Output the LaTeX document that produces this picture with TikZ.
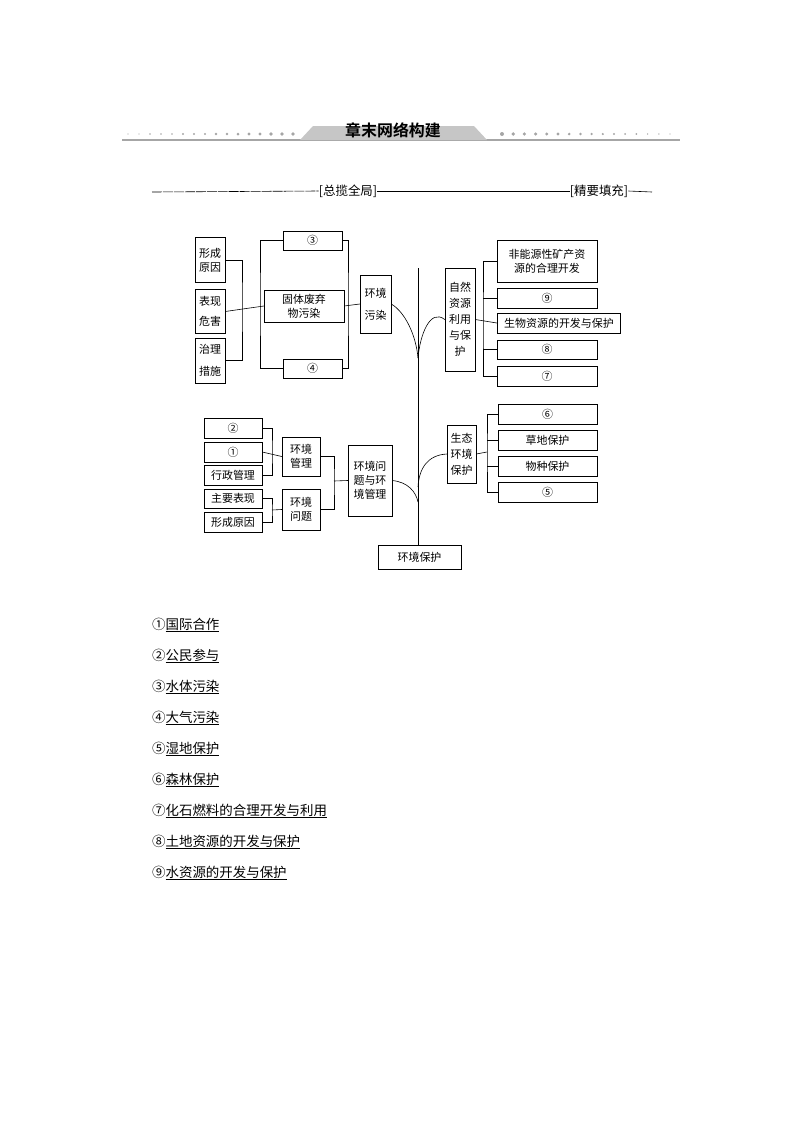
\documentclass[tikz,border=0pt]{standalone}
\usepackage{fontspec}
\newfontfamily\cjk{Noto Sans CJK SC}[BoldFont={* Bold}]
\begin{document}
\begin{tikzpicture}[x=1bp,y=-1bp,
 bx/.style={draw, line width=0.6pt, inner sep=0pt, align=center, font=\cjk\fontsize{11}{14}\selectfont},
 ln/.style={line width=0.6pt},
 ans/.style={anchor=west, inner sep=0pt, font=\cjk\fontsize{13.5}{16}\selectfont}]
\useasboundingbox (0,0) rectangle (794,1123);
% header
\draw[gray!70, line width=1.5pt] (122,140) -- (680,140);
\fill[gray!45] (300,140) -- (313,126) -- (474,126) -- (487,140) -- cycle;
\node[inner sep=0pt, font=\cjk\bfseries\fontsize{16}{18}\selectfont] (hd) at (393,130) {章末网络构建};
\foreach \i in {0,...,15} {\fill[gray!70] (128+\i*11,134) circle ({0.6+\i*0.09});}
\foreach \i in {0,...,15} {\fill[gray!70] (502+\i*11.2,134) circle ({2-\i*0.09});}
% subheader
\node[inner sep=0pt, font=\cjk\fontsize{12.5}{14}\selectfont] (s1) at (348,191) {[总揽全局]};
\node[inner sep=0pt, font=\cjk\fontsize{12.5}{14}\selectfont] (s2) at (599,191) {[精要填充]};
\coordinate (sl) at (152,192); \coordinate (sr) at (652,192);
\draw[ln, dash pattern=on 10pt off 1pt] (sl) -- (s1.west);
\draw[ln] (s1.east) -- (s2.west); \draw[ln] (s2.east) -- (sr);
% upper left
\node[bx, minimum width=30, minimum height=45] (xc) at (210,260) {形成\\原因};
\node[bx, minimum width=30, minimum height=44, font=\cjk\fontsize{11}{20}\selectfont] (bx) at (210,311.5) {表现\\危害};
\node[bx, minimum width=30, minimum height=45, font=\cjk\fontsize{11}{22}\selectfont] (zl) at (210,360.5) {治理\\措施};
\draw[ln] (xc.east) -| (242,304) |- (zl.east);
\node[bx, minimum width=59, minimum height=19] (n3) at (312.5,240.5) {③};
\node[bx, minimum width=59, minimum height=19] (n4) at (312.5,368.5) {④};
\node[bx, minimum width=80, minimum height=32] (gt) at (304,306) {固体废弃\\物污染};
\draw[ln] (bx.east) -- (gt.west);
\draw[ln] (n3.west) -| (260,304) |- (n4.west);
\draw[ln] (n3.east) -| (348,304) |- (n4.east);
\node[bx, minimum width=31, minimum height=58, font=\cjk\fontsize{11}{22}\selectfont] (hw) at (375.5,304) {环境\\污染};
\draw[ln] (gt.east) -- (hw.west);
% trunk
\node[bx, minimum width=83, minimum height=24] (hb) at (419.5,557) {环境保护};
\coordinate (top) at (418,268);
\draw[ln] (top) -- (top |- hb.north);
\coordinate (j1) at (418,358); \coordinate (j2) at (418,502); \coordinate (j3) at (418,487);
% upper right
\node[bx, minimum width=30, minimum height=103, font=\cjk\fontsize{11}{16}\selectfont] (zr) at (460,319.5) {自然\\资源\\利用\\与保\\护};
\draw[ln] (hw.east) .. controls (405,312) and (416,335) .. (j1);
\draw[ln] (zr.west) .. controls (430,308) and (420,335) .. (j1);
\node[bx, minimum width=100, minimum height=42] (r1) at (547,261) {非能源性矿产资\\源的合理开发};
\node[bx, minimum width=100, minimum height=20] (r2) at (547,298) {⑨};
\node[bx, minimum width=124, minimum height=20] (r3) at (559,323) {生物资源的开发与保护};
\node[bx, minimum width=100, minimum height=19] (r4) at (547,349.5) {⑧};
\node[bx, minimum width=100, minimum height=20] (r5) at (547,376) {⑦};
\draw[ln] (r1.west) -| (483,322) |- (r5.west);
\draw[ln] (r2.west) -- (483,298); \draw[ln] (r4.west) -- (483,349.5);
\draw[ln] (zr.east) -- (r3.west);
% lower right
\node[bx, minimum width=29, minimum height=58, font=\cjk\fontsize{11}{16}\selectfont] (st) at (461.5,454) {生态\\环境\\保护};
\draw[ln] (st.west) .. controls (428,455) and (419,468) .. (j3);
\node[bx, minimum width=99, minimum height=20] (q6) at (547.5,414) {⑥};
\node[bx, minimum width=99, minimum height=20] (q7) at (547.5,440) {草地保护};
\node[bx, minimum width=99, minimum height=20] (q8) at (547.5,466) {物种保护};
\node[bx, minimum width=99, minimum height=20] (q9) at (547.5,492) {⑤};
\draw[ln] (q6.west) -| (487,452) |- (q9.west);
\draw[ln] (q7.west) -- (487,440); \draw[ln] (q8.west) -- (487,466);
\draw[ln] (st.east) -- (487,452);
% lower left
\node[bx, minimum width=58, minimum height=20] (p2) at (233,428) {②};
\node[bx, minimum width=58, minimum height=20] (p1) at (233,452) {①};
\node[bx, minimum width=58, minimum height=20] (p3) at (233,475) {行政管理};
\node[bx, minimum width=58, minimum height=19] (p4) at (233,498.5) {主要表现};
\node[bx, minimum width=58, minimum height=20] (p5) at (233,522) {形成原因};
\node[bx, minimum width=38, minimum height=39] (gl) at (301,456.5) {环境\\管理};
\node[bx, minimum width=38, minimum height=41] (wt) at (301,509.5) {环境\\问题};
\draw[ln] (p2.east) -| (272,452) |- (p3.east); \draw[ln] (p1.east) -- (gl.west);
\draw[ln] (p4.east) -| (272,510) |- (p5.east); \draw[ln] (272,510) -- (wt.west);
\node[bx, minimum width=44, minimum height=71] (hg) at (370,480.5) {环境问\\题与环\\境管理};
\draw[ln] (gl.east) -| (334,481) |- (wt.east); \draw[ln] (334,481) -- (hg.west);
\draw[ln] (hg.east) .. controls (408,482) and (416,492) .. (j2);
% answers
\foreach \t [count=\k] in {①\underline{国际合作},②\underline{公民参与},③\underline{水体污染},④\underline{大气污染},⑤\underline{湿地保护},⑥\underline{森林保护},⑦\underline{化石燃料的合理开发与利用},⑧\underline{土地资源的开发与保护},⑨\underline{水资源的开发与保护}}
 {\node[ans] (a\k) at (152,{594+\k*31}) {\t};}
\end{tikzpicture}
\end{document}
